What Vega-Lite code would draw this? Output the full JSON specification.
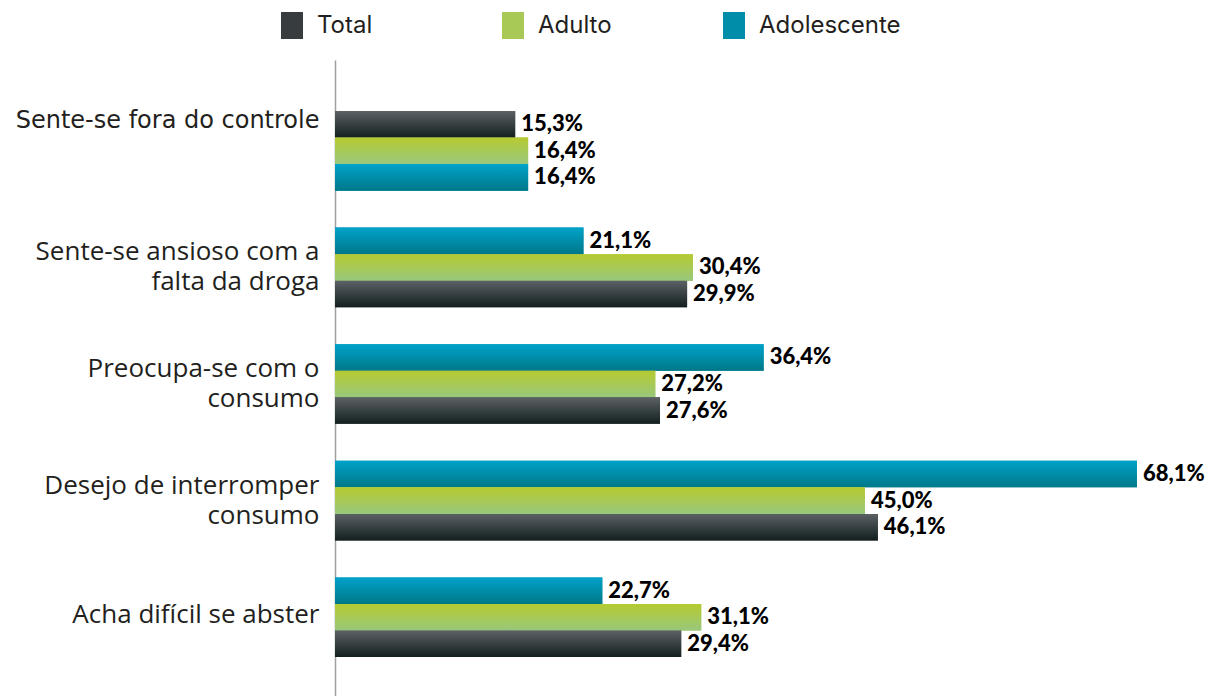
{
  "$schema": "https://vega.github.io/schema/vega-lite/v6.json",
  "width": 882,
  "height": 636,
  "autosize": "none",
  "padding": {"left": 335, "top": 60, "right": 0, "bottom": 0},
  "config": {
    "view": {"stroke": null},
    "locale": {"number": {"decimal": ",", "thousands": ".", "grouping": [3], "currency": ["R$", ""]}}
  },
  "data": {
    "values": [
      {"categoria": "Sente-se fora do controle", "serie": "Total", "ordem": 1, "valor": 0.153},
      {"categoria": "Sente-se fora do controle", "serie": "Adulto", "ordem": 2, "valor": 0.164},
      {"categoria": "Sente-se fora do controle", "serie": "Adolescente", "ordem": 3, "valor": 0.164},
      {"categoria": "Sente-se ansioso com a falta da droga", "serie": "Adolescente", "ordem": 1, "valor": 0.211},
      {"categoria": "Sente-se ansioso com a falta da droga", "serie": "Adulto", "ordem": 2, "valor": 0.304},
      {"categoria": "Sente-se ansioso com a falta da droga", "serie": "Total", "ordem": 3, "valor": 0.299},
      {"categoria": "Preocupa-se com o consumo", "serie": "Adolescente", "ordem": 1, "valor": 0.364},
      {"categoria": "Preocupa-se com o consumo", "serie": "Adulto", "ordem": 2, "valor": 0.272},
      {"categoria": "Preocupa-se com o consumo", "serie": "Total", "ordem": 3, "valor": 0.276},
      {"categoria": "Desejo de interromper consumo", "serie": "Adolescente", "ordem": 1, "valor": 0.681},
      {"categoria": "Desejo de interromper consumo", "serie": "Adulto", "ordem": 2, "valor": 0.450},
      {"categoria": "Desejo de interromper consumo", "serie": "Total", "ordem": 3, "valor": 0.461},
      {"categoria": "Acha difícil se abster", "serie": "Adolescente", "ordem": 1, "valor": 0.227},
      {"categoria": "Acha difícil se abster", "serie": "Adulto", "ordem": 2, "valor": 0.311},
      {"categoria": "Acha difícil se abster", "serie": "Total", "ordem": 3, "valor": 0.294}
    ]
  },
  "encoding": {
    "y": {
      "field": "categoria",
      "type": "nominal",
      "sort": ["Sente-se fora do controle", "Sente-se ansioso com a falta da droga", "Preocupa-se com o consumo", "Desejo de interromper consumo", "Acha difícil se abster"],
      "scale": {"paddingInner": 0.317, "paddingOuter": 0.386, "align": 0.567},
      "axis": {
        "title": null,
        "ticks": false,
        "tickSize": 0,
        "labelPadding": 16,
        "labelOffset": -15,
        "domainColor": "#a0a0a0",
        "domainWidth": 1.5,
        "labelColor": "#231f20",
        "labelFont": {"condition": {"test": "datum.value == 'Sente-se fora do controle'", "value": "DejaVu Sans"}, "value": "Open Sans"},
        "labelFontSize": {"condition": {"test": "datum.value == 'Sente-se fora do controle'", "value": 24}, "value": 26},
        "labelFontWeight": 400,
        "labelBaseline": {
          "condition": [
            {"test": "datum.value == 'Sente-se fora do controle'", "value": "line-bottom"},
            {"test": "datum.value == 'Acha difícil se abster'", "value": "top"}
          ],
          "value": "middle"
        },
        "labelLineHeight": 30,
        "labelLimit": 400,
        "labelExpr": "datum.value == 'Sente-se ansioso com a falta da droga' ? ['Sente-se ansioso com a', 'falta da droga'] : datum.value == 'Preocupa-se com o consumo' ? ['Preocupa-se com o', 'consumo'] : datum.value == 'Desejo de interromper consumo' ? ['Desejo de interromper', 'consumo'] : datum.value"
      }
    },
    "yOffset": {"field": "ordem", "type": "ordinal", "scale": {"paddingInner": 0, "paddingOuter": 0}},
    "x": {"field": "valor", "type": "quantitative", "scale": {"domain": [0, 0.749], "nice": false, "zero": true}, "axis": null}
  },
  "layer": [
    {
      "mark": {"type": "bar"},
      "encoding": {
        "color": {
          "field": "serie",
          "type": "nominal",
          "scale": {
            "domain": ["Total", "Adulto", "Adolescente"],
            "range": ["#373d3f", "#a8c956", "#008da9"]
          },
          "legend": {
            "title": null,
            "orient": "none",
            "direction": "horizontal",
            "columns": 3,
            "gridAlign": "all",
            "columnPadding": 40,
            "legendX": -56.5,
            "legendY": -48,
            "padding": 0,
            "symbolType": "M-0.815,-1H0.815V1H-0.815Z",
            "symbolSize": 729,
            "symbolStrokeWidth": 0,
            "symbolOpacity": 1,
            "labelFont": "Inter",
            "labelFontSize": 24,
            "labelFontWeight": 400,
            "labelColor": "#231f20",
            "labelOffset": 11.5,
            "labelLimit": 300
          }
        }
      }
    },
    {
      "mark": {"type": "bar"},
      "encoding": {
        "fill": {
          "condition": [
            {"test": "datum.serie == 'Total'", "value": {"gradient": "linear", "x1": 0, "y1": 0, "x2": 0, "y2": 1, "stops": [{"offset": 0, "color": "#5c6165"}, {"offset": 1, "color": "#121f1f"}]}},
            {"test": "datum.serie == 'Adulto'", "value": {"gradient": "linear", "x1": 0, "y1": 0, "x2": 0, "y2": 1, "stops": [{"offset": 0, "color": "#b6ca30"}, {"offset": 1, "color": "#98c87c"}]}}
          ],
          "value": {"gradient": "linear", "x1": 0, "y1": 0, "x2": 0, "y2": 1, "stops": [{"offset": 0, "color": "#00a2ca"}, {"offset": 1, "color": "#007888"}]}
        }
      }
    },
    {
      "mark": {"type": "text", "align": "left", "baseline": "middle", "dx": 6, "font": "Lato", "fontWeight": 900, "fontSize": 22, "color": "#000000"},
      "encoding": {
        "text": {"field": "valor", "type": "quantitative", "format": ".1%"}
      }
    }
  ]
}
